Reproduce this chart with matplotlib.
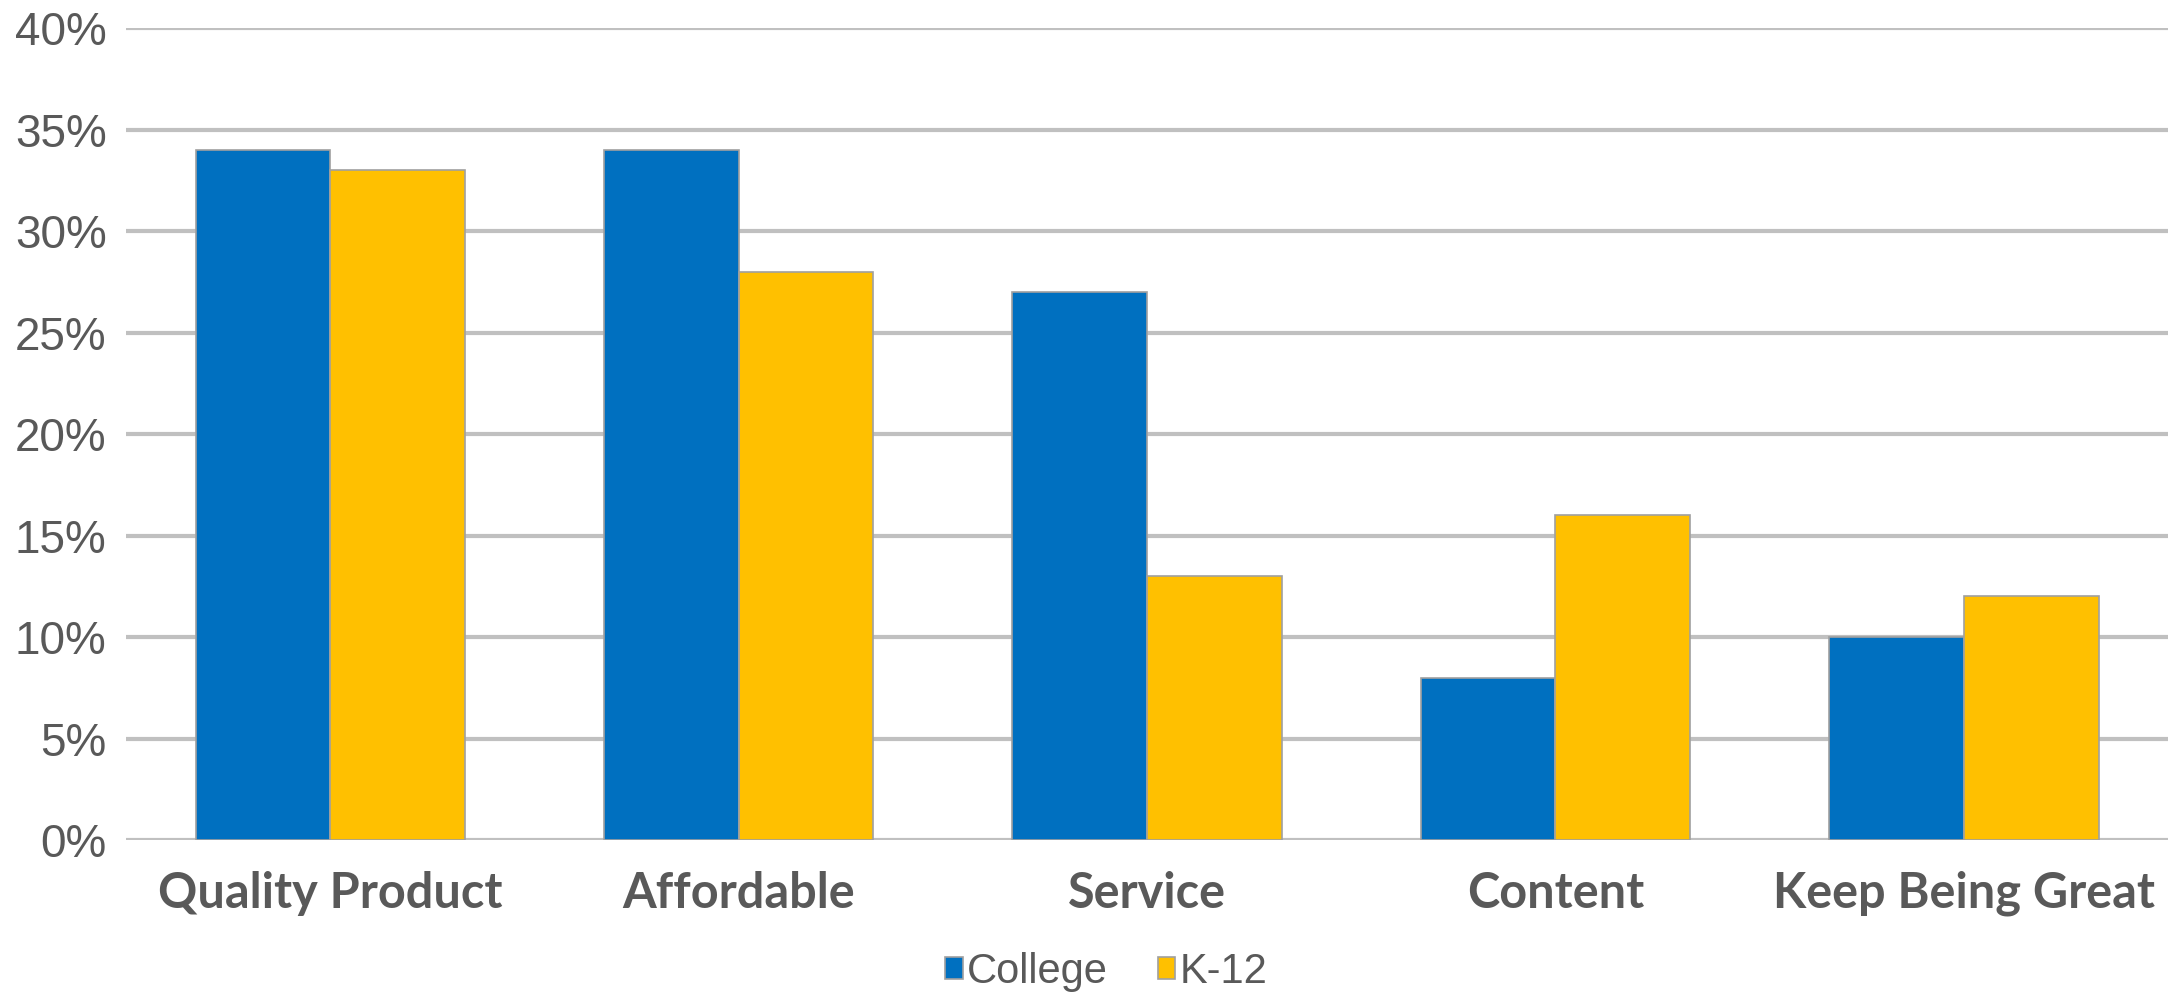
import numpy as np
import matplotlib
matplotlib.use("Agg")
import matplotlib.pyplot as plt
from matplotlib.ticker import FuncFormatter

categories = ["Quality Product", "Affordable", "Service", "Content", "Keep Being Great"]
college = [34, 34, 27, 8, 10]
k12 = [33, 28, 13, 16, 12]
yticks = [0, 5, 10, 15, 20, 25, 30, 35, 40]

blue = "#0070C0"
yellow = "#FFC000"
grey_text = "#595959"

fig = plt.figure(figsize=(21.78, 9.94), dpi=100)
ax = fig.add_axes([0.0579, 0.1549, 0.9375, 0.8169])

x = np.arange(len(categories))
w = 0.33
ax.bar(x - w / 2, college, w, color=blue, edgecolor="#A0A0A0", linewidth=1.2, label="College", zorder=3)
ax.bar(x + w / 2, k12, w, color=yellow, edgecolor="#A0A0A0", linewidth=1.2, label="K-12", zorder=3)

ax.set_xlim(-0.5, len(categories) - 0.5)
ax.set_ylim(0, 40)
ax.set_yticks(yticks)
ax.yaxis.set_major_formatter(FuncFormatter(lambda v, p: "%d%%" % v))
ax.grid(axis="y", color="#C0C0C0", linewidth=3, zorder=0)
for s in ax.spines.values():
    s.set_visible(False)
ax.tick_params(axis="both", length=0)
ax.tick_params(axis="y", pad=14, labelsize=33, labelcolor=grey_text)
for t in ax.get_yticklabels():
    t.set_fontfamily("Liberation Sans")

ax.set_xticks(x)
ax.set_xticklabels(categories, fontfamily="Lato", fontweight="bold", fontsize=35, color=grey_text)
ax.tick_params(axis="x", pad=22)

fig.legend(loc="center", bbox_to_anchor=(0.508, 0.022), ncol=2, frameon=False,
           prop={"family": "Liberation Sans", "size": 30}, labelcolor=grey_text,
           handlelength=0.42, handleheight=0.42, handletextpad=0.1, columnspacing=1.2)

fig.savefig("out.png", dpi=100)
